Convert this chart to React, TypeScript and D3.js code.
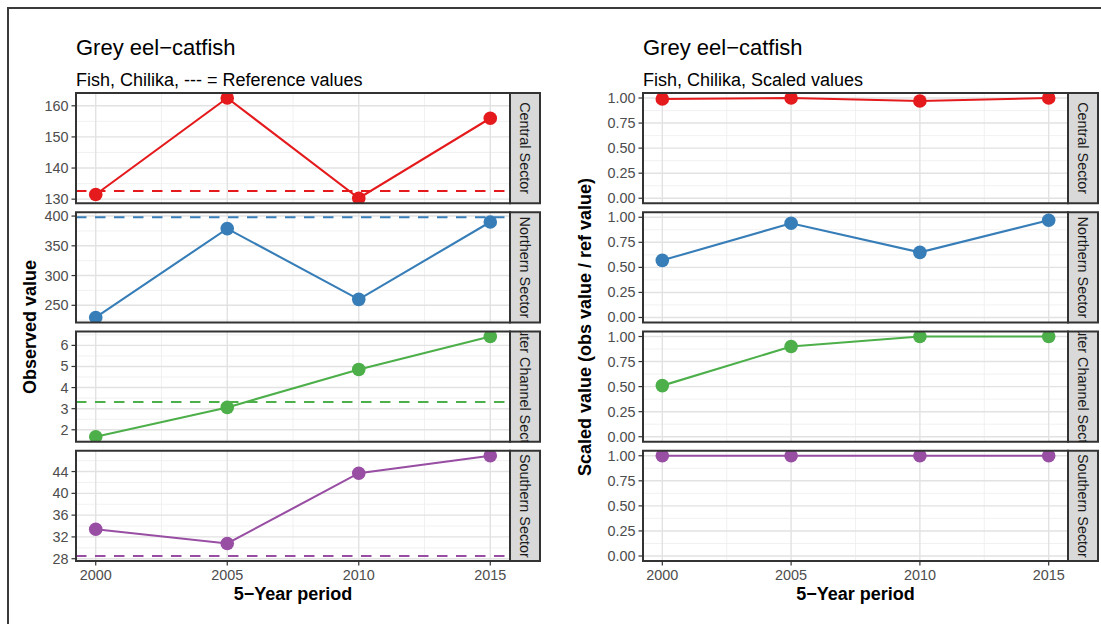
import React from "react";
import * as d3 from "d3";

const years = [2000, 2005, 2010, 2015];
const sectors = ["Central Sector", "Northern Sector", "Outer Channel Sector", "Southern Sector"];
const sectorColors = ["#E41A1C", "#377EB8", "#4DAF4A", "#984EA3"];

const observedCentral = [131.5, 162.5, 130.3, 156.0];
const observedNorthern = [229.5, 378.9, 260.0, 390.0];
const observedOuter = [1.67, 3.06, 4.86, 6.42];
const observedSouthern = [33.4, 30.8, 43.7, 46.9];
const referenceValues = [132.6, 398, 3.32, 28.5];

const scaledCentral = [0.99, 1.0, 0.97, 1.0];
const scaledNorthern = [0.57, 0.94, 0.65, 0.97];
const scaledOuter = [0.51, 0.9, 1.0, 1.0];
const scaledSouthern = [1.0, 1.0, 1.0, 1.0];

const observedTicks = [
  [130, 140, 150, 160],
  [250, 300, 350, 400],
  [2, 3, 4, 5, 6],
  [28, 32, 36, 40, 44],
];
const scaledTicks = [0, 0.25, 0.5, 0.75, 1.0];
const xTicks = [2000, 2005, 2010, 2015];

const FONT = "'Liberation Sans', Arial, Helvetica, sans-serif";
const PANEL_TOP = 93;
const PANEL_H = 110.25;
const PANEL_GAP = 9;
const STRIP_W = 30;
const BORDER = "#333333";

function minorBreaks(ticks: number[], dom: [number, number]) {
  const step = ticks[1] - ticks[0];
  const out: number[] = [];
  const all = [ticks[0] - step, ...ticks, ticks[ticks.length - 1] + step];
  for (let i = 0; i < all.length - 1; i++) {
    const m = (all[i] + all[i + 1]) / 2;
    if (m >= dom[0] && m <= dom[1]) out.push(m);
  }
  return out;
}

function Facet(props: {
  idx: number;
  x0: number;
  x1: number;
  values: number[];
  domain: [number, number];
  ticks: number[];
  fmt: (v: number) => string;
  refValue?: number;
  showX: boolean;
  clipId: string;
}) {
  const { idx, x0, x1, values, domain, ticks, fmt, refValue, showX, clipId } = props;
  const top = PANEL_TOP + idx * (PANEL_H + PANEL_GAP);
  const bottom = top + PANEL_H;
  const x = d3.scaleLinear().domain([1999.25, 2015.75]).range([x0, x1]);
  const y = d3.scaleLinear().domain(domain).range([bottom, top]);
  const color = sectorColors[idx];
  const line = d3
    .line<number>()
    .x((_, i) => x(years[i]))
    .y((v) => y(v));
  const yMinor = minorBreaks(ticks, domain);
  const xMinor = minorBreaks(xTicks, [1999.25, 2015.75]);
  const stripX = x1;
  const stripCx = stripX + STRIP_W / 2;
  const stripCy = (top + bottom) / 2;
  return (
    <g>
      <defs>
        <clipPath id={clipId + "-p"}>
          <rect x={x0} y={top} width={x1 - x0} height={PANEL_H} />
        </clipPath>
        <clipPath id={clipId + "-s"}>
          <rect x={stripX} y={top} width={STRIP_W} height={PANEL_H} />
        </clipPath>
      </defs>
      <rect x={x0} y={top} width={x1 - x0} height={PANEL_H} fill="#ffffff" />
      {yMinor.map((v) => (
        <line key={"ym" + v} x1={x0} x2={x1} y1={y(v)} y2={y(v)} stroke="#eeeeee" strokeWidth={0.8} />
      ))}
      {xMinor.map((v) => (
        <line key={"xm" + v} x1={x(v)} x2={x(v)} y1={top} y2={bottom} stroke="#eeeeee" strokeWidth={0.8} />
      ))}
      {ticks.map((v) => (
        <line key={"yg" + v} x1={x0} x2={x1} y1={y(v)} y2={y(v)} stroke="#e2e2e2" strokeWidth={1.4} />
      ))}
      {xTicks.map((v) => (
        <line key={"xg" + v} x1={x(v)} x2={x(v)} y1={top} y2={bottom} stroke="#e2e2e2" strokeWidth={1.4} />
      ))}
      <g clipPath={`url(#${clipId}-p)`}>
        {refValue !== undefined && (
          <line
            x1={x0}
            x2={x1}
            y1={y(refValue)}
            y2={y(refValue)}
            stroke={color}
            strokeWidth={2}
            strokeDasharray="10.5,8.5"
          />
        )}
        <path d={line(values) || ""} fill="none" stroke={color} strokeWidth={2.1} />
        {values.map((v, i) => (
          <circle key={i} cx={x(years[i])} cy={y(v)} r={6.8} fill={color} />
        ))}
      </g>
      <rect x={x0} y={top} width={x1 - x0} height={PANEL_H} fill="none" stroke={BORDER} strokeWidth={2} />
      {/* strip */}
      <rect x={stripX} y={top} width={STRIP_W} height={PANEL_H} fill="#d9d9d9" stroke={BORDER} strokeWidth={2} />
      <g clipPath={`url(#${clipId}-s)`}>
        <text
          x={0}
          y={0}
          transform={`translate(${stripCx},${stripCy}) rotate(90)`}
          textAnchor="middle"
          dominantBaseline="central"
          fontFamily={FONT}
          fontSize={14.4}
          fill="#1a1a1a"
        >
          {sectors[idx]}
        </text>
      </g>
      {/* y axis */}
      {ticks.map((v) => (
        <g key={"yt" + v}>
          <line x1={x0 - 4.5} x2={x0} y1={y(v)} y2={y(v)} stroke={BORDER} strokeWidth={1.2} />
          <text
            x={x0 - 7.5}
            y={y(v)}
            textAnchor="end"
            dominantBaseline="central"
            fontFamily={FONT}
            fontSize={14.4}
            fill="#4d4d4d"
          >
            {fmt(v)}
          </text>
        </g>
      ))}
      {showX &&
        xTicks.map((v) => (
          <g key={"xt" + v}>
            <line x1={x(v)} x2={x(v)} y1={bottom} y2={bottom + 4.5} stroke={BORDER} strokeWidth={1.2} />
            <text x={x(v)} y={bottom + 19} textAnchor="middle" fontFamily={FONT} fontSize={14.4} fill="#4d4d4d">
              {v}
            </text>
          </g>
        ))}
    </g>
  );
}

function expand(vals: number[]): [number, number] {
  const [lo, hi] = d3.extent(vals) as [number, number];
  const pad = (hi - lo) * 0.05;
  return [lo - pad, hi + pad];
}

export default function App() {
  const observed = [observedCentral, observedNorthern, observedOuter, observedSouthern];
  const scaled = [scaledCentral, scaledNorthern, scaledOuter, scaledSouthern];
  const L0 = 76,
    L1 = 510;
  const R0 = 643,
    R1 = 1068;
  const panelsBottom = PANEL_TOP + 4 * PANEL_H + 3 * PANEL_GAP;
  const midY = (PANEL_TOP + panelsBottom) / 2;
  const fmtObs = (v: number) => String(v);
  const fmtScaled = d3.format(".2f");
  return (
    <div style={{ position: "absolute", left: 0, top: 0 }}>
      <svg width={1101} height={624} style={{ display: "block", background: "#ffffff" }}>
        <rect x={8} y={8} width={1200} height={700} fill="#ffffff" stroke="#3a3a3a" strokeWidth={2} />
        {/* Left plot */}
        <text x={L0} y={55} fontFamily={FONT} fontSize={22} fill="#000">
          Grey eel−catfish
        </text>
        <text x={L0} y={86} fontFamily={FONT} fontSize={18} fill="#000">
          Fish, Chilika, --- = Reference values
        </text>
        {observed.map((vals, i) => (
          <Facet
            key={"L" + i}
            idx={i}
            x0={L0}
            x1={L1}
            values={vals}
            domain={expand([...vals, referenceValues[i]])}
            ticks={observedTicks[i]}
            fmt={fmtObs}
            refValue={referenceValues[i]}
            showX={i === 3}
            clipId={"lf" + i}
          />
        ))}
        <text
          transform={`translate(30,${midY}) rotate(-90)`}
          textAnchor="middle"
          dominantBaseline="central"
          fontFamily={FONT}
          fontSize={18}
          fontWeight="bold"
          fill="#000"
        >
          Observed value
        </text>
        <text x={(L0 + L1) / 2} y={600} textAnchor="middle" fontFamily={FONT} fontSize={18} fontWeight="bold" fill="#000">
          5−Year period
        </text>

        {/* Right plot */}
        <text x={R0} y={55} fontFamily={FONT} fontSize={22} fill="#000">
          Grey eel−catfish
        </text>
        <text x={R0} y={86} fontFamily={FONT} fontSize={18} fill="#000">
          Fish, Chilika, Scaled values
        </text>
        {scaled.map((vals, i) => (
          <Facet
            key={"R" + i}
            idx={i}
            x0={R0}
            x1={R1}
            values={vals}
            domain={[-0.05, 1.05]}
            ticks={scaledTicks}
            fmt={fmtScaled}
            showX={i === 3}
            clipId={"rf" + i}
          />
        ))}
        <text
          transform={`translate(585,${midY}) rotate(-90)`}
          textAnchor="middle"
          dominantBaseline="central"
          fontFamily={FONT}
          fontSize={18}
          fontWeight="bold"
          fill="#000"
        >
          Scaled value (obs value / ref value)
        </text>
        <text x={(R0 + R1) / 2} y={600} textAnchor="middle" fontFamily={FONT} fontSize={18} fontWeight="bold" fill="#000">
          5−Year period
        </text>
      </svg>
    </div>
  );
}
